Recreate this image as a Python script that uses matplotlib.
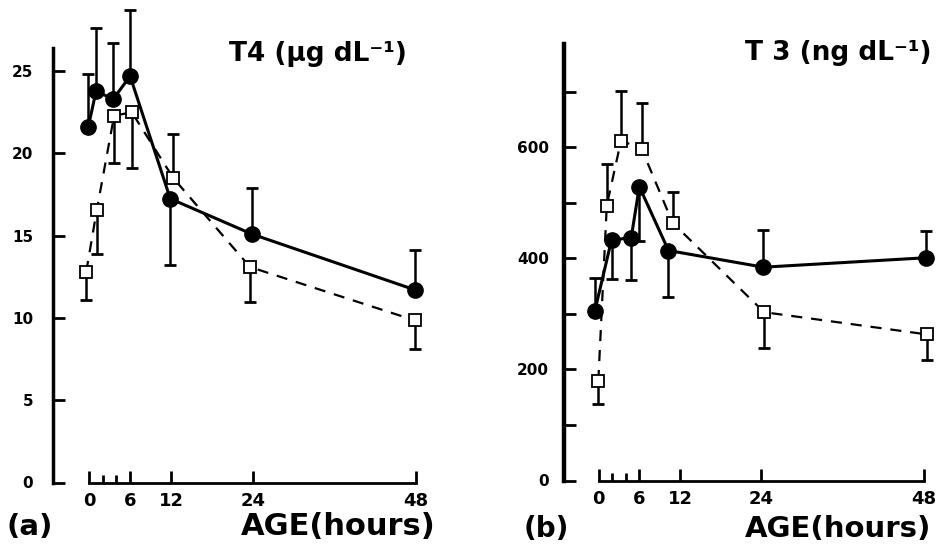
import matplotlib
matplotlib.use("Agg")
import matplotlib.pyplot as plt

# (a) T4, ug/dL  -- filled circles (solid) and open squares (dashed)
t4_fill_hours = [-0.15, 1.0, 3.5, 6.0, 11.9, 23.9, 47.9]
t4_fill = [21.6, 23.8, 23.3, 24.7, 17.25, 15.1, 11.7]
t4_fill_bar = [24.85, 27.6, 26.7, 28.7, 13.25, 17.9, 14.15]   # end of the one-sided error bar
t4_open_hours = [-0.45, 1.1, 3.65, 6.25, 12.35, 23.6, 47.85]
t4_open = [12.8, 16.55, 22.3, 22.5, 18.5, 13.1, 9.85]
t4_open_bar = [11.1, 13.9, 19.45, 19.1, 21.2, 10.95, 8.1]

# (b) T3, ng/dL
t3_fill_hours = [-0.55, 1.9, 4.8, 6.0, 10.3, 24.3, 48.3]
t3_fill = [306, 433, 437, 529, 414, 384, 401]
t3_fill_bar = [365, 363, 361, 432, 330, 451, 450]
t3_open_hours = [-0.05, 1.2, 3.3, 6.35, 10.9, 24.4, 48.4]
t3_open = [179, 495, 612, 597, 464, 303, 263]
t3_open_bar = [137, 570, 702, 680, 520, 238, 217]

hour_ticks = [0, 6, 12, 24, 48]
hour_minor = [2, 4]
t4_ticks = [0, 5, 10, 15, 20, 25]
t3_ticks = [0, 100, 200, 300, 400, 500, 600, 700]
t3_labels = ["0", "", "200", "", "400", "", "600", ""]

W, H = 945, 549
fig = plt.figure(figsize=(W / 100, H / 100), dpi=100)
plt.rcParams['font.family'] = 'DejaVu Sans'
plt.rcParams['font.weight'] = 'bold'


def px_axes(x0, x1, y0, y1):
    # pixel box -> figure fraction
    return fig.add_axes([x0 / W, (H - y1) / H, (x1 - x0) / W, (y1 - y0) / H])


def draw_panel(ax, fh, fv, fb, oh, ov, ob, yspine_lw):
    ax.vlines(fh, fv, fb, color='k', lw=1.8, zorder=1)
    ax.plot(fh, fb, ls='none', marker='_', ms=8, mew=2, color='k', zorder=1)
    ax.vlines(oh, ov, ob, color='k', lw=1.8, zorder=1)
    ax.plot(oh, ob, ls='none', marker='_', ms=8, mew=2, color='k', zorder=1)
    ax.plot(oh, ov, color='k', lw=1.6, ls=(0, (5, 4)), marker='s', ms=8.5,
            mfc='white', mec='k', mew=1.3, zorder=3)
    ax.plot(fh, fv, color='k', lw=2.2, ls='-', marker='o', ms=11, zorder=4)

    for s in ['top', 'right']:
        ax.spines[s].set_visible(False)
    ax.spines['left'].set_linewidth(yspine_lw)
    ax.spines['bottom'].set_linewidth(2)
    ax.spines['bottom'].set_bounds(0, 48)

    ax.set_xticks(hour_ticks)
    ax.set_xticklabels([str(h) for h in hour_ticks])
    ax.set_xticks(hour_minor, minor=True)
    ax.tick_params(axis='x', which='major', direction='in', length=8.5, width=2,
                   pad=7, labelsize=13)
    ax.tick_params(axis='x', which='minor', direction='in', length=6, width=2)
    ax.tick_params(axis='y', direction='in', length=8.5, width=2, labelsize=11)
    for lab in ax.get_xticklabels() + ax.get_yticklabels():
        lab.set_fontweight('bold')


# left panel
ax1 = px_axes(52.7, 426.3, 0, 482.5)
ax1.set_xlim(-5.37, 49.5)
ax1.set_ylim(0, 29.33)
draw_panel(ax1, t4_fill_hours, t4_fill, t4_fill_bar,
           t4_open_hours, t4_open, t4_open_bar, 2.5)
ax1.spines['left'].set_bounds(0, 26.4)
ax1.set_yticks(t4_ticks)
ax1.set_yticklabels([str(v) for v in t4_ticks])
ax1.tick_params(axis='y', pad=14)
for lab in ax1.get_yticklabels():
    lab.set_fontweight('bold')

# right panel
ax2 = px_axes(564, 934.3, 0, 480.5)
ax2.set_xlim(-5.11, 49.5)
ax2.set_ylim(0, 865)
draw_panel(ax2, t3_fill_hours, t3_fill, t3_fill_bar,
           t3_open_hours, t3_open, t3_open_bar, 3.2)
ax2.spines['left'].set_bounds(0, 785)
ax2.set_yticks(t3_ticks)
ax2.set_yticklabels(t3_labels)
ax2.tick_params(axis='y', pad=11)
for lab in ax2.get_yticklabels():
    lab.set_fontweight('bold')

# titles and labels
fig.text(318 / W, 1 - 54 / H, "T4 (\u03bcg dL\u207b\u00b9)", ha='center', va='center',
         fontsize=19, fontweight='bold')
fig.text(838 / W, 1 - 53 / H, "T 3 (ng dL\u207b\u00b9)", ha='center', va='center',
         fontsize=19, fontweight='bold')
fig.text(30 / W, 1 - 535 / H, "(a)", ha='center', va='baseline',
         fontsize=21, fontweight='bold')
fig.text(338 / W, 1 - 535 / H, "AGE(hours)", ha='center', va='baseline',
         fontsize=22, fontweight='bold')
fig.text(546 / W, 1 - 537 / H, "(b)", ha='center', va='baseline',
         fontsize=20, fontweight='bold')
fig.text(838 / W, 1 - 537 / H, "AGE(hours)", ha='center', va='baseline',
         fontsize=21, fontweight='bold')

fig.savefig("out.png", dpi=100)
